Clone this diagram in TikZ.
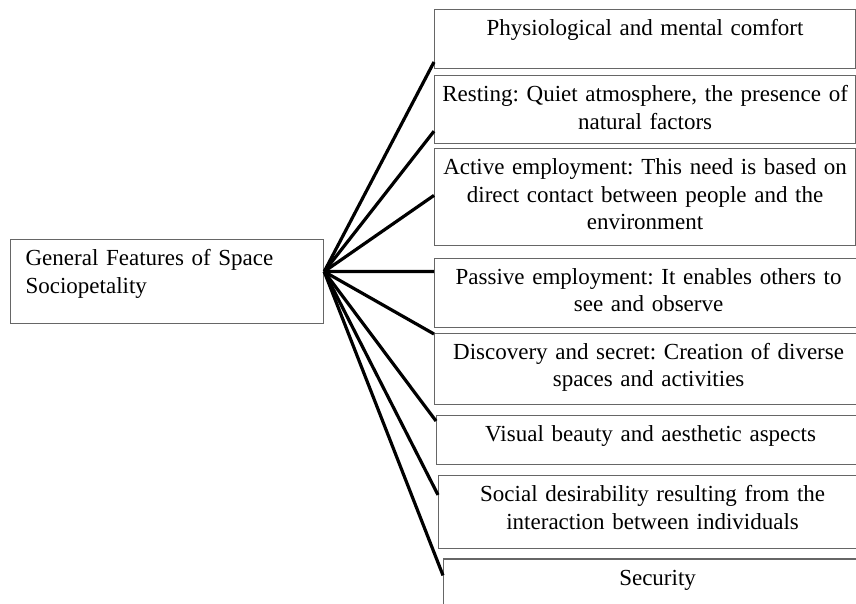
\documentclass[tikz,border=0pt]{standalone}
\usepackage{fontspec}
\setmainfont{Liberation Serif}
\usetikzlibrary{positioning}
\tikzset{
mainbox/.style={rectangle, draw=black!60, line width=1.2pt, align=left, text width=283pt, inner xsep=15pt, inner ysep=10pt, text height=16pt, font=\fontsize{23}{27.5}\selectfont\frenchspacing},
featbox/.style={rectangle, draw=black!60, line width=1.2pt, align=center, text width=409pt, inner xsep=6pt, inner ysep=10pt, text height=16pt, font=\fontsize{23}{27.5}\selectfont\frenchspacing},
wide/.style={text width=416pt},
link/.style={black, line width=3.2pt}
}

\begin{document}
\begin{tikzpicture}[x=1pt,y=1pt]
\clip (0,0) rectangle (856,603);
\node[mainbox, text depth=48pt, anchor=north west] (main) at (10,364) {General Features of Space\\Sociopetality};

\node[featbox, text depth=22.4pt, anchor=north west] (b1) at (434,593.7) {Physiological and mental comfort};
\node[featbox, text depth=31.7pt, below=6.3pt of b1.south west, anchor=north west] (b2) {Resting: Quiet atmosphere, the presence of\\natural factors};
\node[featbox, text depth=60.6pt, below=4pt of b2.south west, anchor=north west] (b3) {Active employment: This need is based on\\direct contact between people and the\\environment};
\node[featbox, wide, text depth=33.3pt, below=11.7pt of b3.south west, anchor=north west] (b4) {Passive employment: It enables others to\\see and observe};
\node[featbox, wide, text depth=35.3pt, below=4.4pt of b4.south west, anchor=north west] (b5) {Discovery and secret: Creation of diverse\\spaces and activities};
\node[featbox, wide, text depth=13pt, below=10pt of b5.south west, anchor=north west, xshift=2pt] (b6) {Visual beauty and aesthetic aspects};
\node[featbox, wide, text depth=37.3pt, below=9.7pt of b6.south west, anchor=north west, xshift=2pt] (b7) {Social desirability resulting from the\\interaction between individuals};
\node[featbox, wide, text depth=60pt, below=9pt of b7.south west, anchor=north west, xshift=5pt] (b8) {Security};

\coordinate (hub) at ([yshift=10pt]main.east);
\foreach \b/\d in {b1/52.7, b2/56, b3/47.3, b4/14, b5/1.5, b6/6, b7/20, b8/17}
  \draw[link] (hub) -- ([yshift=-\d pt]\b.north west);
\end{tikzpicture}
\end{document}
